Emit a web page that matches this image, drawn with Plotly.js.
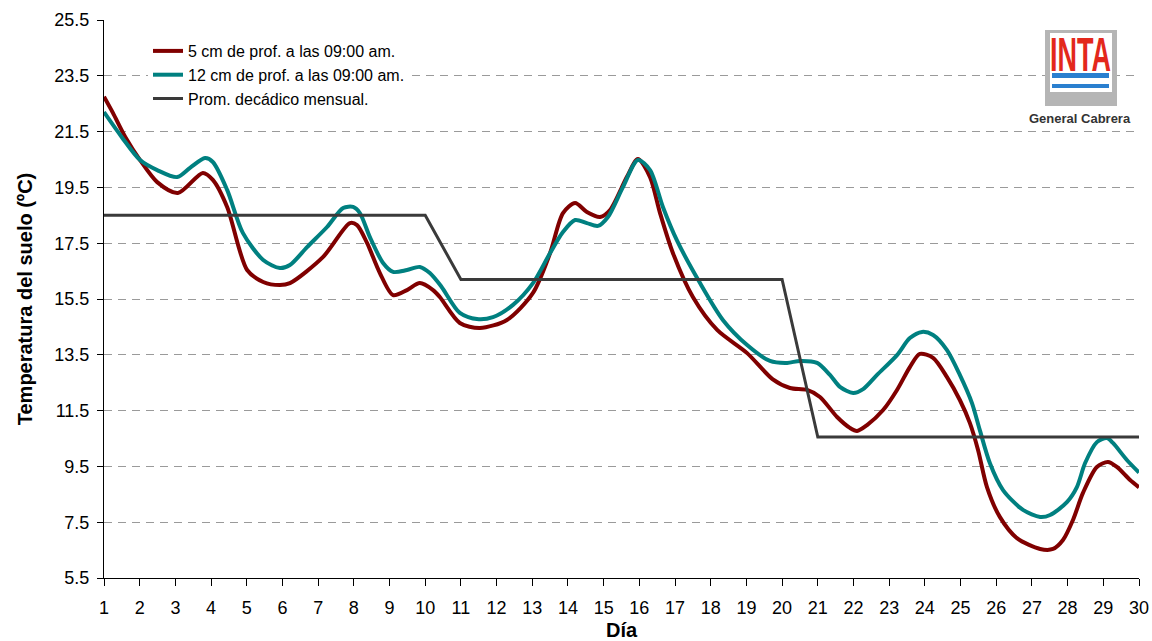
<!DOCTYPE html>
<html>
<head>
<meta charset="utf-8">
<script src="https://cdn.plot.ly/plotly-3.0.1.min.js"></script>
<style>
  html, body { margin: 0; padding: 0; background: #fff; }
  #chart { width: 1152px; height: 641px; }
</style>
</head>
<body>
<div id="chart"></div>
<script>
// ---- Data ----
const seriesNames = [
  "5 cm de prof. a las 09:00 am.",
  "12 cm de prof. a las 09:00 am.",
  "Prom. decádico mensual."
];

// 5 cm depth (day, ºC)
const dias5cm = [1.00, 1.25, 1.60, 2.01, 2.49, 3.07, 3.77, 4.05, 4.45, 5.01, 5.46, 5.93, 6.21, 7.14, 7.89, 8.09, 8.37, 8.73, 9.10, 9.49, 9.85, 10.22, 10.41, 10.97, 11.53, 12.29, 13.02, 13.50, 13.86, 14.20, 14.53, 14.90, 15.18, 15.65, 15.96, 16.30, 16.58, 16.94, 17.50, 18.18, 19.02, 19.74, 20.22, 20.70, 21.06, 21.54, 21.90, 22.10, 22.38, 22.83, 23.22, 23.58, 23.86, 24.23, 24.62, 24.98, 25.26, 25.49, 25.74, 26.10, 26.58, 27.23, 27.59, 27.87, 28.15, 28.43, 28.82, 29.13, 29.38, 29.75, 30.00];
const temp5cm = [22.75, 22.17, 21.30, 20.48, 19.69, 19.30, 20.02, 19.77, 18.80, 16.54, 16.11, 16.00, 16.07, 17.01, 18.22, 18.15, 17.51, 16.43, 15.64, 15.82, 16.07, 15.82, 15.57, 14.64, 14.46, 14.75, 15.72, 17.15, 18.58, 18.94, 18.62, 18.44, 18.69, 19.87, 20.52, 19.87, 18.58, 17.15, 15.57, 14.39, 13.56, 12.62, 12.31, 12.24, 11.99, 11.27, 10.88, 10.77, 10.98, 11.52, 12.24, 13.06, 13.53, 13.39, 12.70, 11.88, 11.06, 10.09, 8.76, 7.69, 6.93, 6.54, 6.54, 6.86, 7.58, 8.55, 9.48, 9.66, 9.48, 9.01, 8.75];

// 12 cm depth (day, ºC)
const dias12cm = [1.00, 1.50, 2.01, 2.49, 3.05, 3.41, 3.83, 4.05, 4.45, 4.89, 5.46, 5.93, 6.21, 6.69, 7.25, 7.70, 7.98, 8.17, 8.45, 8.82, 9.10, 9.49, 9.85, 10.13, 10.45, 10.97, 11.45, 11.90, 12.46, 13.02, 13.50, 13.86, 14.20, 14.53, 14.84, 15.12, 15.54, 15.96, 16.30, 16.66, 17.05, 17.70, 18.34, 19.02, 19.66, 20.14, 20.50, 20.98, 21.34, 21.62, 21.99, 22.27, 22.66, 23.22, 23.58, 23.92, 24.23, 24.62, 24.98, 25.32, 25.54, 25.82, 26.19, 26.75, 27.23, 27.51, 27.98, 28.26, 28.49, 28.82, 29.10, 29.27, 29.66, 30.00];
const temp12cm = [22.20, 21.30, 20.48, 20.12, 19.87, 20.20, 20.55, 20.41, 19.41, 17.87, 16.90, 16.61, 16.72, 17.36, 18.08, 18.76, 18.80, 18.58, 17.72, 16.79, 16.47, 16.54, 16.65, 16.43, 15.95, 15.00, 14.78, 14.85, 15.29, 16.07, 17.15, 17.90, 18.33, 18.22, 18.12, 18.44, 19.51, 20.48, 20.12, 18.80, 17.61, 16.07, 14.75, 13.85, 13.28, 13.21, 13.28, 13.21, 12.78, 12.35, 12.13, 12.27, 12.78, 13.49, 14.10, 14.32, 14.21, 13.67, 12.78, 11.77, 10.80, 9.62, 8.65, 7.94, 7.69, 7.76, 8.22, 8.76, 9.62, 10.37, 10.52, 10.34, 9.73, 9.28];

// Ten-day monthly average
const diasProm = [1, 10, 11, 20, 21, 30];
const tempProm = [18.5, 18.5, 16.2, 16.2, 10.55, 10.55];

// Axis ticks
const xTicks = Array.from({length: 30}, (_, i) => i + 1);
const yTicks = [5.5, 7.5, 9.5, 11.5, 13.5, 15.5, 17.5, 19.5, 21.5, 23.5, 25.5];
const yTickLabels = yTicks.map(v => v.toFixed(1));

// ---- Layout helpers (pixel -> paper) ----
const M = {l: 104, r: 13, t: 20, b: 63};
const W = 1152, H = 641;
const pw = W - M.l - M.r, ph = H - M.t - M.b;
const px = p => (p - M.l) / pw;
const py = p => (H - M.b - p) / ph;

const FONT = "Liberation Sans, Arial, sans-serif";

const traces = [
  {x: dias5cm, y: temp5cm, name: seriesNames[0], mode: "lines",
   line: {color: "#800000", width: 4, shape: "spline", smoothing: 0.8}},
  {x: dias12cm, y: temp12cm, name: seriesNames[1], mode: "lines",
   line: {color: "#008080", width: 4, shape: "spline", smoothing: 0.8}},
  {x: diasProm, y: tempProm, name: seriesNames[2], mode: "lines",
   line: {color: "#3a3a3a", width: 3}}
];

const layout = {
  width: W, height: H,
  margin: M,
  paper_bgcolor: "#ffffff",
  plot_bgcolor: "#ffffff",
  font: {family: FONT, color: "#000"},
  showlegend: true,
  legend: {
    x: px(148), y: py(34), xanchor: "left", yanchor: "top",
    bgcolor: "#ffffff", borderwidth: 0,
    font: {family: FONT, size: 16, color: "#000"},
    itemwidth: 30
  },
  xaxis: {
    range: [1, 30],
    tickvals: xTicks,
    ticktext: xTicks.map(String),
    ticks: "outside", ticklen: 7, tickcolor: "#000", tickwidth: 1,
    ticklabelstandoff: 6,
    showline: true, linecolor: "#000", linewidth: 1,
    showgrid: false, zeroline: false,
    tickfont: {family: FONT, size: 18, color: "#000"},
    title: {text: "<b>Día</b>", font: {family: FONT, size: 20, color: "#000"}, standoff: 13}
  },
  yaxis: {
    range: [5.5, 25.5],
    tickvals: yTicks,
    ticktext: yTickLabels,
    ticks: "outside", ticklen: 6, tickcolor: "#000", tickwidth: 1,
    ticklabelstandoff: 4,
    showline: true, linecolor: "#000", linewidth: 1,
    showgrid: true, gridcolor: "#9a9a9a", gridwidth: 1, griddash: "8px,6px",
    zeroline: false,
    tickfont: {family: FONT, size: 18, color: "#000"},
    title: {text: "<b>Temperatura del suelo (ºC)</b>", font: {family: FONT, size: 20, color: "#000"}, standoff: 16}
  },
  shapes: [
    // white legend backdrop extension (hides the grid behind the legend area)
    {type: "rect", xref: "paper", yref: "paper", x0: px(106), x1: px(150), y0: py(86), y1: py(66),
     fillcolor: "#ffffff", line: {width: 0}, layer: "between"},
    // logo frame
    {type: "rect", xref: "paper", yref: "paper", x0: px(1045), x1: px(1117), y0: py(106), y1: py(30),
     fillcolor: "#b5b5b5", line: {width: 0}, layer: "above"},
    {type: "rect", xref: "paper", yref: "paper", x0: px(1050), x1: px(1112), y0: py(92), y1: py(33),
     fillcolor: "#ffffff", line: {width: 0}, layer: "above"},
    {type: "rect", xref: "paper", yref: "paper", x0: px(1052), x1: px(1109), y0: py(78), y1: py(73),
     fillcolor: "#2a7fcf", line: {width: 0}, layer: "above"},
    {type: "rect", xref: "paper", yref: "paper", x0: px(1052), x1: px(1109), y0: py(88), y1: py(84),
     fillcolor: "#2a7fcf", line: {width: 0}, layer: "above"}
  ],
  annotations: [
    {text: "<b>INTA</b>", xref: "paper", yref: "paper", x: px(1080.5), y: py(55),
     xanchor: "center", yanchor: "middle", showarrow: false,
     font: {family: "Liberation Sans Narrow, Arial Narrow, sans-serif", size: 27, color: "#e3281c"}},
    {text: "<b>General Cabrera</b>", xref: "paper", yref: "paper", x: px(1080), y: py(118),
     xanchor: "center", yanchor: "middle", showarrow: false,
     font: {family: FONT, size: 13, color: "#333333"}}
  ]
};

Plotly.newPlot("chart", traces, layout, {displayModeBar: false, staticPlot: true}).then(gd => {
  // stretch the INTA logo letters vertically (logo lettering is tall & condensed)
  const t = gd.querySelectorAll(".annotation text")[0];
  if (t) {
    const bb = t.getBBox();
    const cx = bb.x + bb.width / 2, cy = bb.y + bb.height / 2;
    t.setAttribute("transform", `translate(${cx},${cy}) scale(1,1.75) translate(${-cx},${-cy})`);
  }
});
</script>
</body>
</html>
